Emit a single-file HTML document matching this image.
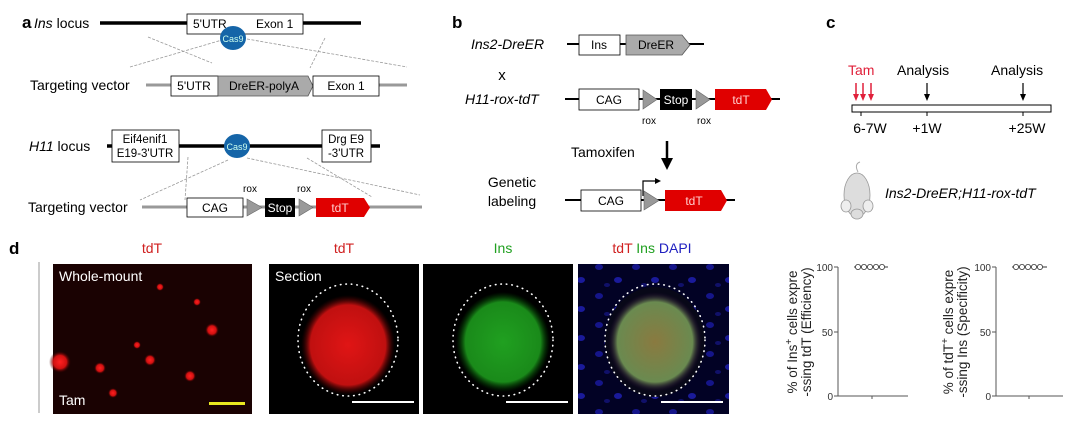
<!DOCTYPE html>
<html><head><meta charset="utf-8"><style>
html,body{margin:0;padding:0;background:#fff;width:1080px;height:423px;overflow:hidden}
svg{display:block}
text{font-family:"Liberation Sans",Arial,sans-serif}
</style></head><body>
<svg width="1080" height="423" viewBox="0 0 1080 423" xmlns="http://www.w3.org/2000/svg">
<defs>
<radialGradient id="rb"><stop offset="0" stop-color="#ff2020"/><stop offset="0.6" stop-color="#d01010"/><stop offset="1" stop-color="#300" stop-opacity="0"/></radialGradient>
<radialGradient id="redis" cx="0.5" cy="0.5" r="0.5"><stop offset="0" stop-color="#e01515"/><stop offset="0.8" stop-color="#c01010"/><stop offset="1" stop-color="#400" stop-opacity="0"/></radialGradient>
<radialGradient id="grnis" cx="0.5" cy="0.5" r="0.5"><stop offset="0" stop-color="#20a020"/><stop offset="0.8" stop-color="#1a8a1a"/><stop offset="1" stop-color="#040" stop-opacity="0"/></radialGradient>
<radialGradient id="mixis" cx="0.5" cy="0.5" r="0.5"><stop offset="0" stop-color="#8a7a40"/><stop offset="0.8" stop-color="#6a8a50"/><stop offset="1" stop-color="#203" stop-opacity="0"/></radialGradient>
<pattern id="blue" width="37" height="29" patternUnits="userSpaceOnUse"><rect width="37" height="29" fill="#020225"/><ellipse cx="7" cy="6" rx="4" ry="3" fill="#15158a"/><ellipse cx="26" cy="19" rx="4" ry="3" fill="#1a1a9a"/><ellipse cx="15" cy="24" rx="3" ry="2" fill="#10106a"/></pattern>
</defs>

<!-- Panel a -->
<text x="22" y="28" font-size="17" font-weight="bold">a</text>
<text x="34" y="28" font-size="14"><tspan font-style="italic">Ins</tspan> locus</text>
<line x1="100" y1="23" x2="361" y2="23" stroke="#000" stroke-width="3.5"/>
<rect x="187" y="14" width="116" height="20" fill="#fff" stroke="#000" stroke-width="0.8"/>
<text x="193" y="28" font-size="12">5'UTR</text><text x="256" y="28" font-size="12">Exon 1</text>
<g stroke="#999" stroke-width="0.8" stroke-dasharray="3,1.5">
<line x1="148" y1="37" x2="212" y2="63"/><line x1="130" y1="67" x2="222" y2="40"/>
<line x1="247" y1="39" x2="407" y2="67"/><line x1="325" y1="38" x2="310" y2="68"/>
<line x1="188" y1="157" x2="185" y2="200"/><line x1="228" y1="160" x2="140" y2="200"/>
<line x1="247" y1="158" x2="420" y2="195"/><line x1="307" y1="158" x2="372" y2="197"/>
</g>
<ellipse cx="233" cy="38" rx="13" ry="12" fill="#1565a8"/>
<text x="233" y="42" font-size="9" fill="#cfe" text-anchor="middle">Cas9</text>
<text x="30" y="90" font-size="14">Targeting vector</text>
<line x1="146" y1="85" x2="407" y2="85" stroke="#999" stroke-width="3"/>
<rect x="171" y="76" width="47" height="20" fill="#fff" stroke="#000" stroke-width="0.8"/>
<polygon points="218,76 308,76 313,86 308,96 218,96" fill="#aaa" stroke="#555" stroke-width="0.8"/>
<rect x="313" y="76" width="66" height="20" fill="#fff" stroke="#000" stroke-width="0.8"/>
<text x="194" y="90" font-size="12" text-anchor="middle">5'UTR</text>
<text x="264" y="90" font-size="12" text-anchor="middle">DreER-polyA</text>
<text x="346" y="90" font-size="12" text-anchor="middle">Exon 1</text>
<text x="29" y="151" font-size="14"><tspan font-style="italic">H11</tspan> locus</text>
<line x1="107" y1="146" x2="380" y2="146" stroke="#000" stroke-width="3.5"/>
<rect x="112" y="130" width="67" height="32" fill="#fff" stroke="#000" stroke-width="0.8"/>
<text x="145" y="143" font-size="11.5" text-anchor="middle">Eif4enif1</text>
<text x="145" y="157" font-size="11.5" text-anchor="middle">E19-3'UTR</text>
<rect x="322" y="130" width="49" height="32" fill="#fff" stroke="#000" stroke-width="0.8"/>
<text x="346" y="143" font-size="11.5" text-anchor="middle">Drg E9</text>
<text x="346" y="157" font-size="11.5" text-anchor="middle">-3'UTR</text>
<ellipse cx="237" cy="146" rx="13" ry="12" fill="#1565a8"/>
<text x="237" y="150" font-size="9" fill="#cfe" text-anchor="middle">Cas9</text>
<text x="28" y="212" font-size="14">Targeting vector</text>
<line x1="142" y1="207" x2="422" y2="207" stroke="#999" stroke-width="3"/>
<rect x="187" y="198" width="56" height="19" fill="#fff" stroke="#000" stroke-width="0.8"/>
<text x="215" y="212" font-size="12" text-anchor="middle">CAG</text>
<polygon points="247,199 262,207.5 247,216" fill="#999" stroke="#666" stroke-width="0.6"/>
<rect x="265" y="198" width="30" height="19" fill="#000"/>
<text x="280" y="212" font-size="12" fill="#fff" text-anchor="middle">Stop</text>
<polygon points="299,199 313,207.5 299,216" fill="#999" stroke="#666" stroke-width="0.6"/>
<polygon points="316,198 364,198 370,207.5 364,217 316,217" fill="#e00000"/>
<text x="340" y="212" font-size="12" fill="#fcc" text-anchor="middle">tdT</text>
<text x="250" y="192" font-size="10" text-anchor="middle">rox</text>
<text x="304" y="192" font-size="10" text-anchor="middle">rox</text>

<!-- Panel b -->
<text x="452" y="28" font-size="17" font-weight="bold">b</text>
<text x="471" y="49" font-size="14" font-style="italic">Ins2-DreER</text>
<line x1="567" y1="44" x2="704" y2="44" stroke="#000" stroke-width="2"/>
<rect x="579" y="35" width="41" height="20" fill="#fff" stroke="#000" stroke-width="0.8"/>
<text x="599" y="49" font-size="12" text-anchor="middle">Ins</text>
<polygon points="626,35 682,35 690,45 682,55 626,55" fill="#aaa" stroke="#555" stroke-width="0.8"/>
<text x="656" y="49" font-size="12" text-anchor="middle">DreER</text>
<text x="502" y="80" font-size="15" text-anchor="middle">x</text>
<text x="465" y="104" font-size="14" font-style="italic">H11-rox-tdT</text>
<line x1="565" y1="99" x2="780" y2="99" stroke="#000" stroke-width="2"/>
<rect x="579" y="89" width="60" height="21" fill="#fff" stroke="#000" stroke-width="0.8"/>
<text x="609" y="104" font-size="12" text-anchor="middle">CAG</text>
<polygon points="643,90 657,99.5 643,109" fill="#999" stroke="#666" stroke-width="0.6"/>
<rect x="660" y="89" width="32" height="21" fill="#000"/>
<text x="676" y="104" font-size="12" fill="#fff" text-anchor="middle">Stop</text>
<polygon points="696,90 710,99.5 696,109" fill="#999" stroke="#666" stroke-width="0.6"/>
<polygon points="715,89 766,89 772,99.5 766,110 715,110" fill="#e00000"/>
<text x="741" y="104" font-size="12" fill="#fcc" text-anchor="middle">tdT</text>
<text x="649" y="124" font-size="10" text-anchor="middle">rox</text>
<text x="704" y="124" font-size="10" text-anchor="middle">rox</text>
<text x="571" y="157" font-size="14">Tamoxifen</text>
<line x1="667" y1="141" x2="667" y2="160" stroke="#000" stroke-width="2.5"/>
<polygon points="661,158 673,158 667,170" fill="#000"/>
<text x="512" y="187" font-size="14" text-anchor="middle">Genetic</text>
<text x="512" y="206" font-size="14" text-anchor="middle">labeling</text>
<line x1="565" y1="200" x2="735" y2="200" stroke="#000" stroke-width="2"/>
<rect x="581" y="190" width="60" height="21" fill="#fff" stroke="#000" stroke-width="0.8"/>
<text x="611" y="205" font-size="12" text-anchor="middle">CAG</text>
<polyline points="643,196 643,181 656,181" fill="none" stroke="#000" stroke-width="1.2"/>
<polygon points="655,178 661,181 655,184" fill="#000"/>
<polygon points="644,191 659,200.5 644,210" fill="#999" stroke="#666" stroke-width="0.6"/>
<polygon points="665,190 721,190 727,200.5 721,211 665,211" fill="#e00000"/>
<text x="694" y="205" font-size="12" fill="#fcc" text-anchor="middle">tdT</text>

<!-- Panel c -->
<text x="826" y="28" font-size="17" font-weight="bold">c</text>
<text x="848" y="75" font-size="14" fill="#e0203a">Tam</text>
<text x="897" y="75" font-size="14">Analysis</text>
<text x="991" y="75" font-size="14">Analysis</text>
<g stroke="#e0203a" stroke-width="1.5">
<line x1="856" y1="83" x2="856" y2="96"/><line x1="863" y1="83" x2="863" y2="96"/><line x1="871" y1="83" x2="871" y2="96"/></g>
<polygon points="853,94 859,94 856,101" fill="#e0203a"/><polygon points="860,94 866,94 863,101" fill="#e0203a"/><polygon points="868,94 874,94 871,101" fill="#e0203a"/>
<line x1="927" y1="83" x2="927" y2="96" stroke="#000" stroke-width="1.2"/><polygon points="924,94 930,94 927,101" fill="#000"/>
<line x1="1023" y1="83" x2="1023" y2="96" stroke="#000" stroke-width="1.2"/><polygon points="1020,94 1026,94 1023,101" fill="#000"/>
<rect x="852" y="105" width="199" height="7" fill="#fff" stroke="#000" stroke-width="1"/>
<line x1="861" y1="112" x2="861" y2="116" stroke="#000"/><line x1="927" y1="112" x2="927" y2="116" stroke="#000"/><line x1="1023" y1="112" x2="1023" y2="116" stroke="#000"/>
<text x="870" y="133" font-size="14" text-anchor="middle">6-7W</text>
<text x="927" y="133" font-size="14" text-anchor="middle">+1W</text>
<text x="1027" y="133" font-size="14" text-anchor="middle">+25W</text>
<!-- mouse -->
<path d="M858,172 q-4,-8 2,-10" fill="none" stroke="#aaa" stroke-width="1"/>
<ellipse cx="857" cy="195" rx="13" ry="22" fill="#ddd" stroke="#999" stroke-width="0.8"/>
<ellipse cx="846" cy="206" rx="5" ry="6" fill="#eee" stroke="#999" stroke-width="0.8"/>
<ellipse cx="868" cy="206" rx="5" ry="6" fill="#eee" stroke="#999" stroke-width="0.8"/>
<ellipse cx="857" cy="214" rx="6" ry="5" fill="#ddd" stroke="#999" stroke-width="0.8"/>
<text x="885" y="198" font-size="14" font-style="italic">Ins2-DreER;H11-rox-tdT</text>

<!-- Panel d -->
<text x="9" y="254" font-size="17" font-weight="bold">d</text>
<text x="152" y="253" font-size="14" fill="#d02020" text-anchor="middle">tdT</text>
<text x="344" y="253" font-size="14" fill="#d02020" text-anchor="middle">tdT</text>
<text x="503" y="253" font-size="14" fill="#20a020" text-anchor="middle">Ins</text>
<text x="652" y="253" font-size="14" text-anchor="middle"><tspan fill="#d02020">tdT</tspan> <tspan fill="#20a020">Ins</tspan> <tspan fill="#2020c0">DAPI</tspan></text>
<line x1="39" y1="262" x2="39" y2="413" stroke="#999" stroke-width="1"/>
<rect x="53" y="264" width="199" height="150" fill="#1a0202"/>
<circle cx="60" cy="362" r="11" fill="url(#rb)"/>
<circle cx="100" cy="368" r="6" fill="url(#rb)"/>
<circle cx="150" cy="360" r="6" fill="url(#rb)"/>
<circle cx="190" cy="376" r="6" fill="url(#rb)"/>
<circle cx="137" cy="345" r="4" fill="url(#rb)"/>
<circle cx="212" cy="330" r="7" fill="url(#rb)"/>
<circle cx="197" cy="302" r="4" fill="url(#rb)"/>
<circle cx="160" cy="287" r="4" fill="url(#rb)"/>
<circle cx="113" cy="393" r="5" fill="url(#rb)"/>
<text x="59" y="281" font-size="14" fill="#fff">Whole-mount</text>
<text x="59" y="405" font-size="14" fill="#fff">Tam</text>
<rect x="209" y="402" width="36" height="3" fill="#e8e820"/>
<rect x="269" y="264" width="150" height="150" fill="#000"/>
<ellipse cx="348" cy="345" rx="47" ry="50" fill="url(#redis)"/>
<ellipse cx="348" cy="340" rx="50" ry="56" fill="none" stroke="#fff" stroke-width="1.6" stroke-dasharray="0.5,5" stroke-linecap="round"/>
<text x="275" y="281" font-size="14" fill="#fff">Section</text>
<rect x="352" y="401" width="62" height="2" fill="#fff"/>
<rect x="423" y="264" width="150" height="150" fill="#000"/>
<ellipse cx="503" cy="342" rx="47" ry="50" fill="url(#grnis)"/>
<ellipse cx="503" cy="340" rx="50" ry="56" fill="none" stroke="#fff" stroke-width="1.6" stroke-dasharray="0.5,5" stroke-linecap="round"/>
<rect x="506" y="401" width="62" height="2" fill="#fff"/>
<rect x="578" y="264" width="151" height="150" fill="url(#blue)"/>
<ellipse cx="655" cy="342" rx="50" ry="55" fill="#080818"/>
<ellipse cx="655" cy="342" rx="47" ry="50" fill="url(#mixis)"/>
<ellipse cx="655" cy="340" rx="50" ry="56" fill="none" stroke="#fff" stroke-width="1.6" stroke-dasharray="0.5,5" stroke-linecap="round"/>
<rect x="661" y="401" width="62" height="2" fill="#fff"/>

<!-- graphs -->
<g font-size="10" fill="#333">
<line x1="838" y1="267" x2="838" y2="396" stroke="#555"/><line x1="838" y1="396" x2="908" y2="396" stroke="#555"/>
<line x1="834" y1="267" x2="838" y2="267" stroke="#555"/><line x1="834" y1="332" x2="838" y2="332" stroke="#555"/><line x1="834" y1="396" x2="838" y2="396" stroke="#555"/>
<line x1="872" y1="396" x2="872" y2="399" stroke="#555"/>
<text x="833" y="271" text-anchor="end">100</text><text x="833" y="336" text-anchor="end">50</text><text x="833" y="400" text-anchor="end">0</text>
<line x1="854" y1="267" x2="888" y2="267" stroke="#333"/>
<g fill="#fff" stroke="#333" stroke-width="0.8"><circle cx="858" cy="267" r="2.6"/><circle cx="864" cy="267" r="2.6"/><circle cx="870" cy="267" r="2.6"/><circle cx="876" cy="267" r="2.6"/><circle cx="882" cy="267" r="2.6"/></g>
<text transform="translate(797,332) rotate(-90)" font-size="13.5" fill="#222" text-anchor="middle">% of Ins<tspan dy="-5" font-size="10">+</tspan><tspan dy="5"> cells  expre</tspan></text>
<text transform="translate(811,332) rotate(-90)" font-size="13.5" fill="#222" text-anchor="middle">-ssing tdT (Efficiency)</text>

<line x1="996" y1="267" x2="996" y2="396" stroke="#555"/><line x1="996" y1="396" x2="1063" y2="396" stroke="#555"/>
<line x1="992" y1="267" x2="996" y2="267" stroke="#555"/><line x1="992" y1="332" x2="996" y2="332" stroke="#555"/><line x1="992" y1="396" x2="996" y2="396" stroke="#555"/>
<line x1="1029" y1="396" x2="1029" y2="399" stroke="#555"/>
<text x="991" y="271" text-anchor="end">100</text><text x="991" y="336" text-anchor="end">50</text><text x="991" y="400" text-anchor="end">0</text>
<line x1="1012" y1="267" x2="1047" y2="267" stroke="#333"/>
<g fill="#fff" stroke="#333" stroke-width="0.8"><circle cx="1016" cy="267" r="2.6"/><circle cx="1022" cy="267" r="2.6"/><circle cx="1028" cy="267" r="2.6"/><circle cx="1034" cy="267" r="2.6"/><circle cx="1040" cy="267" r="2.6"/></g>
<text transform="translate(953,332) rotate(-90)" font-size="13.5" fill="#222" text-anchor="middle">% of tdT<tspan dy="-5" font-size="10">+</tspan><tspan dy="5"> cells  expre</tspan></text>
<text transform="translate(967,332) rotate(-90)" font-size="13.5" fill="#222" text-anchor="middle">-ssing Ins (Specificity)</text>
</g>
</svg>
</body></html>
